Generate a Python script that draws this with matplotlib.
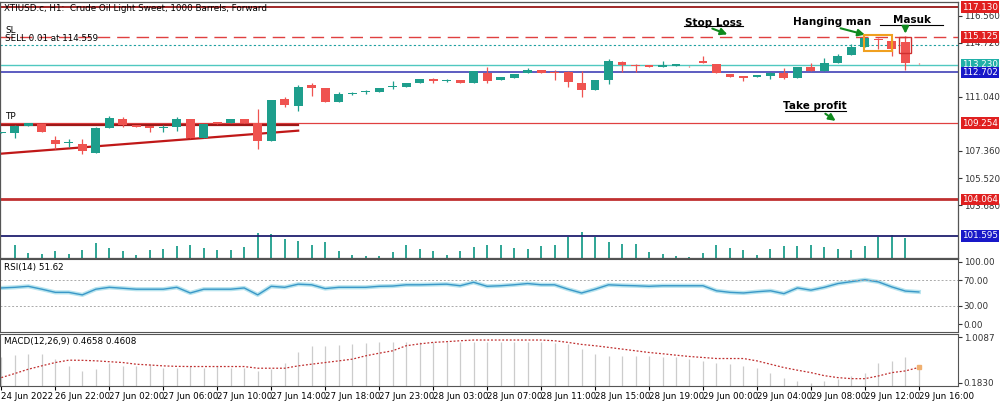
import matplotlib
matplotlib.use("Agg")
import matplotlib.pyplot as plt
import matplotlib.transforms as mtrans
from matplotlib.patches import Rectangle
import numpy as np

# ---------------- data ----------------
opens  = [108.60,108.60,109.08,109.21,108.12,107.92,107.85,107.24,108.94,109.55,109.14,109.08,108.92,109.01,109.55,108.26,109.35,109.28,109.55,109.28,
          108.06,110.91,110.44,111.86,111.66,110.71,111.25,111.39,111.39,111.73,111.73,112.00,112.27,112.14,112.20,112.00,112.68,112.20,112.34,112.68,
          112.88,112.75,112.75,112.00,111.52,112.20,113.43,113.22,113.22,113.08,113.15,113.15,113.50,113.29,112.61,112.48,112.41,112.48,112.68,112.34,
          113.09,112.82,113.36,113.90,114.45,114.99,114.86,114.79,113.36]
closes = [108.60,109.08,109.28,108.67,107.85,107.92,107.38,108.94,109.62,109.14,109.01,108.94,108.96,109.55,108.26,109.21,109.21,109.55,109.28,108.06,
          110.84,110.50,111.73,111.66,110.71,111.25,111.25,111.46,111.66,111.80,112.00,112.27,112.14,112.14,112.00,112.82,112.14,112.41,112.61,112.88,
          112.68,112.68,112.07,111.52,112.20,113.50,113.22,113.15,113.08,113.22,113.29,113.12,113.36,112.68,112.41,112.34,112.54,112.68,112.34,113.09,
          112.82,113.36,113.84,114.45,115.06,114.92,114.31,113.36,113.33]
highs  = [108.65,109.14,109.28,109.21,108.40,108.19,108.19,109.01,109.76,109.69,109.14,109.08,109.14,109.69,109.55,109.21,109.35,109.55,109.55,110.23,
          110.84,111.05,111.86,112.00,111.66,111.39,111.39,111.52,111.66,112.14,112.00,112.27,112.34,112.27,112.20,112.82,113.09,112.41,112.61,113.02,
          112.88,112.88,112.82,112.82,112.20,113.63,113.50,113.29,113.22,113.50,113.29,113.15,113.84,113.29,112.61,112.48,112.54,112.75,113.02,113.09,
          113.36,113.70,113.97,114.65,115.06,115.06,114.99,115.20,113.36]
lows   = [108.55,108.26,109.08,108.67,107.51,107.65,107.17,107.24,108.94,109.01,109.01,108.67,108.67,108.74,108.26,108.26,109.21,109.28,109.28,107.51,
          108.06,110.37,110.10,111.12,110.71,110.71,111.18,111.25,111.39,111.59,111.73,112.00,112.00,112.07,112.00,112.00,112.00,112.20,112.34,112.68,
          112.68,112.20,111.73,111.05,111.52,111.93,112.75,112.75,113.08,113.08,113.15,113.10,113.36,112.68,112.41,112.14,112.41,112.27,112.27,112.34,
          112.82,112.82,113.36,113.90,114.45,114.31,113.84,112.88,113.30]
volume = [0,40,15,13,20,13,23,45,30,20,10,25,27,37,40,30,25,23,33,75,70,55,50,40,48,22,10,7,5,18,38,27,20,10,20,33,38,38,30,27,35,40,63,77,63,48,43,43,17,13,5,2,
          15,38,30,23,10,27,35,35,38,33,27,25,35,63,67,60,0]
rsi = [58,59,60.6,56,51,51,47,56,59,57.5,56,56,56,59,50,56,56,56,58,47,60.6,59,64,63,57,59,59,59,60.6,61,63,63,63.5,64,61.5,67,60.6,61.5,63,65,
       63,63,56,50,56,63,62,61.5,60.6,61.5,61.5,61.5,61.5,53.5,51,50,52,53.5,49,58,54.5,59,65,68,71,67.6,59.6,53,51.62]
macd_hist = [0.65,0.684,0.703,0.703,0.611,0.489,0.397,0.428,0.550,0.489,0.489,0.519,0.458,0.458,0.489,0.458,0.489,0.458,0.458,0.397,0.428,0.550,0.733,0.856,0.856,
             0.868,0.886,0.905,0.917,0.917,0.917,0.917,0.917,0.917,0.917,0.917,0.917,0.917,0.917,0.917,0.917,0.905,0.886,0.795,0.703,0.672,0.672,0.672,0.672,
             0.642,0.642,0.611,0.581,0.550,0.519,0.489,0.458,0.366,0.275,0.214,0.183,0.214,0.244,0.305,0.366,0.550,0.581,0.642,0.4658]
macd_signal = [0.275,0.35,0.428,0.49,0.55,0.593,0.59,0.581,0.565,0.55,0.519,0.505,0.489,0.48,0.477,0.477,0.477,0.477,0.477,0.446,0.446,0.446,0.489,0.52,0.55,
               0.58,0.611,0.672,0.72,0.764,0.856,0.89,0.917,0.93,0.947,0.96,0.96,0.96,0.96,0.96,0.96,0.947,0.917,0.88,0.856,0.826,0.795,0.764,0.733,0.71,0.684,
               0.66,0.642,0.623,0.623,0.623,0.58,0.519,0.458,0.41,0.366,0.31,0.275,0.256,0.256,0.305,0.366,0.397,0.4608]
xlabels = ["24 Jun 2022","26 Jun 22:00","27 Jun 02:00","27 Jun 06:00","27 Jun 10:00","27 Jun 14:00","27 Jun 18:00","27 Jun 23:00",
           "28 Jun 03:00","28 Jun 07:00","28 Jun 11:00","28 Jun 15:00","28 Jun 19:00","29 Jun 00:00","29 Jun 04:00","29 Jun 08:00",
           "29 Jun 12:00","29 Jun 16:00"]
price_ticks = [116.560,114.720,111.040,107.360,105.520,103.680]
lvl_top, lvl_sl, lvl_sell, lvl_bid, lvl_ask, lvl_tp, lvl_low, lvl_vol = 117.130,115.125,114.559,113.230,112.702,109.254,104.064,101.595

BULL = "#1e9e8c"; BEAR = "#ef5350"; GREEN = "#0f8a1e"
FS = 6.3

fig = plt.figure(figsize=(10, 4.03), dpi=100)
W = 0.958
ax = fig.add_axes([0.0, 1-258/403, W, 256/403])
axr = fig.add_axes([0.0, 1-332/403, W, 73/403])
axm = fig.add_axes([0.0, 1-386/403, W, 52/403])
xl = (-0.1, 70.9)

n = len(opens)
x = np.arange(n)
# ---------- main panel ----------
ax.set_ylim(100.08, 117.49)
vax = ax.twinx()
vax.set_ylim(0, 760); vax.set_yticks([]); vax.set_xlim(*xl)
vax.vlines(x, 0, volume, color=BULL, lw=1.3)
vax.set_zorder(0); ax.set_zorder(1); ax.patch.set_visible(False)

for a in (ax, axr, axm):
    a.set_xlim(*xl)
    for s in a.spines.values():
        s.set_color("#555555"); s.set_linewidth(0.8)
    a.yaxis.tick_right()
    a.tick_params(axis="y", labelsize=FS, length=3, pad=1, colors="#333333")
    a.tick_params(axis="x", bottom=False, labelbottom=False)

for i in range(n):
    o, c, h, l = opens[i], closes[i], highs[i], lows[i]
    col = BULL if c >= o else BEAR
    ax.vlines(i, l, h, color=col, lw=0.9, zorder=3)
    bh = max(abs(c-o), 0.03)
    ax.add_patch(Rectangle((i-0.33, min(o, c)), 0.66, bh, color=col, zorder=4, lw=0))

ax.axhline(lvl_top, color="#a02828", lw=1.4)
ax.axhline(lvl_sl, color="#e04040", lw=1.0, ls=(0, (9, 5)))
ax.axhline(lvl_sell, color="#20a0a0", lw=0.8, ls=(0, (2, 2)))
ax.axhline(lvl_bid, color="#50c8c0", lw=1.0)
ax.axhline(lvl_ask, color="#3030b0", lw=1.1)
ax.axhline(lvl_tp, color="#e04040", lw=0.9)
ax.axhline(lvl_low, color="#c03030", lw=2.0)
ax.axhline(lvl_vol, color="#202070", lw=1.3)
ax.plot([-0.1, 22], [lvl_tp-0.1, lvl_tp-0.1], color="#a01818", lw=1.6)
ax.plot([-0.1, 22], [107.17, 108.74], color="#c01818", lw=1.6)

ax.set_yticks(price_ticks)
ax.set_yticklabels([f"{v:.3f}" for v in price_ticks])
tr = mtrans.blended_transform_factory(ax.transAxes, ax.transData)
for v, bg in [(lvl_top, "#e02020"), (lvl_sl, "#e02020"), (lvl_bid, "#20b0a8"), (lvl_ask, "#1818c8"),
              (lvl_tp, "#e02020"), (lvl_low, "#e02020"), (lvl_vol, "#1818c8")]:
    ax.text(1.004, v, f"{v:.3f}", transform=tr, fontsize=FS, color="white", va="center", ha="left",
            bbox=dict(boxstyle="square,pad=0.15", fc=bg, ec="none"), clip_on=False, zorder=10)

ax.text(0.004, 0.975, "XTIUSD.c, H1:  Crude Oil Light Sweet, 1000 Barrels, Forward", transform=ax.transAxes,
        fontsize=FS, va="center")
ax.text(0.3, 115.55, "SL", fontsize=FS, va="center")
ax.text(0.3, 114.98, "SELL 0.01 at 114.559", fontsize=FS, va="center")
ax.text(0.3, 109.68, "TP", fontsize=FS, va="center")

bold = dict(fontsize=7.5, fontweight="bold", ha="center", va="center")
ax.text(52.8, 116.08, "Stop Loss", **bold)
ax.plot([50.6, 55.0], [115.85, 115.85], color="black", lw=0.8)
ax.annotate("", xy=(54, 115.22), xytext=(52.5, 115.75), arrowprops=dict(arrowstyle="-|>", color=GREEN, lw=1.5))
ax.text(61.6, 116.15, "Hanging man", **bold)
ax.annotate("", xy=(64.2, 115.22), xytext=(62, 115.75), arrowprops=dict(arrowstyle="-|>", color=GREEN, lw=1.5))
ax.text(67.5, 116.28, "Masuk", **bold)
ax.plot([65.1, 69.8], [115.94, 115.94], color="black", lw=0.8)
ax.annotate("", xy=(67, 115.15), xytext=(67, 115.85), arrowprops=dict(arrowstyle="-|>", color=GREEN, lw=1.5))
ax.text(60.3, 110.44, "Take profit", **bold)
ax.plot([58.1, 62.6], [110.1, 110.1], color="black", lw=0.8)
ax.annotate("", xy=(62, 109.3), xytext=(60.9, 110.0), arrowprops=dict(arrowstyle="-|>", color=GREEN, lw=1.5))
ax.add_patch(Rectangle((63.9, 114.18), 2.1, 1.08, fill=False, ec="#f0a020", lw=1.5, zorder=6))
ax.add_patch(Rectangle((66.55, 114.04), 0.9, 1.09, fill=False, ec="#d03030", lw=1.0, zorder=6))

# ---------- RSI ----------
axr.set_ylim(-12, 104)
axr.plot(x, rsi, color="#b8e4ee", lw=3.0)
axr.plot(x, rsi, color="#3a98c8", lw=1.0)
for lv in (70, 30):
    axr.axhline(lv, color="#aaaaaa", lw=0.7, ls=(0, (2, 2)))
axr.set_yticks([100, 70, 30, 0])
axr.set_yticklabels(["100.00", "70.00", "30.00", "0.00"])
axr.text(0.004, 0.88, "RSI(14) 51.62", transform=axr.transAxes, fontsize=FS, va="center")

# ---------- MACD ----------
axm.set_ylim(0.122, 1.07)
axm.vlines(x, 0.122, macd_hist, color="#cccccc", lw=0.9)
axm.plot(x, macd_signal, color="#c03030", lw=0.9, ls=(0, (1.5, 1.5)))
axm.plot([68], [macd_signal[-1]], marker="s", ms=2.5, color="#f0b070")
axm.set_yticks([1.0087, 0.1830])
axm.set_yticklabels(["1.0087", "0.1830"])
axm.text(0.004, 0.85, "MACD(12,26,9) 0.4658 0.4608", transform=axm.transAxes, fontsize=FS, va="center")
axm.set_xticks(np.arange(0, 69, 4))
axm.set_xticklabels(xlabels)
axm.tick_params(axis="x", bottom=True, labelbottom=True, labelsize=FS, length=3, pad=1)
for t in axm.get_xticklabels():
    t.set_ha("left")

fig.savefig("out.png", dpi=100, facecolor="white")
